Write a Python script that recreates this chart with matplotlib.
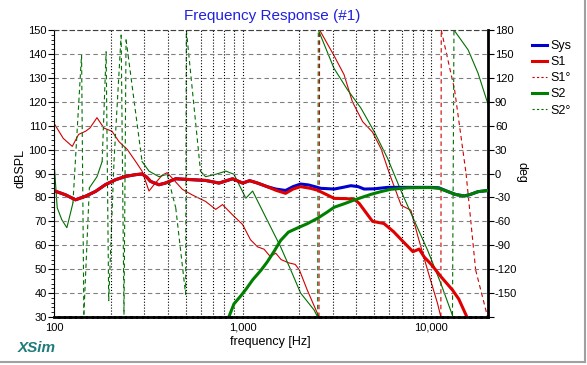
import matplotlib
matplotlib.use('Agg')
import matplotlib.pyplot as plt
from matplotlib.lines import Line2D
from matplotlib.ticker import LogLocator, FixedLocator, NullFormatter, FixedFormatter

plt.rcParams['font.family'] = ['Liberation Sans', 'DejaVu Sans']
plt.rcParams['axes.unicode_minus'] = False

# SPL curves (frequency in Hz, level in dB)
sys_f = [100, 115, 130, 147, 166, 187, 212, 240, 270, 293, 310, 325, 360, 390, 442, 542, 636, 750,
         885, 1000, 1090, 1200, 1350, 1500, 1690, 1850, 2030, 2240, 2600, 3060, 3400, 3750, 4100,
         4410, 5000, 5880, 7000, 8500, 10000, 11000, 12300, 13500, 15000, 16200, 17700, 20000]
sys_db = [82.8, 81.1, 79.0, 80.5, 82.5, 85.3, 87.4, 88.8, 89.5, 89.8, 88.5, 86.7, 85.3, 86.0, 87.8,
          87.4, 87.1, 86.0, 87.8, 86.0, 87.0, 86.0, 84.5, 83.5, 82.9, 84.5, 85.6, 85.2, 83.8, 83.5,
          84.2, 84.9, 84.5, 83.5, 83.6, 84.2, 84.2, 84.2, 84.2, 84.0, 82.4, 81.2, 80.6, 81.3, 82.4, 82.9]

s1_f = [100, 115, 130, 147, 166, 187, 212, 240, 270, 293, 310, 325, 360, 390, 442, 542, 636, 750,
        885, 1000, 1090, 1200, 1350, 1500, 1690, 1850, 2030, 2290, 2500, 2700, 3060, 3500, 3900,
        4150, 4410, 4880, 5610, 6310, 7000, 7540, 8000, 8630, 9200, 10000, 11250, 12960, 14000, 15300]
s1_db = [82.8, 81.1, 79.0, 80.5, 82.5, 85.3, 87.4, 88.8, 89.5, 89.8, 88.5, 86.7, 85.3, 86.0, 87.8,
         87.4, 87.1, 86.0, 87.8, 86.0, 87.0, 86.0, 84.5, 83.0, 81.7, 83.5, 84.5, 83.8, 83.0, 81.7,
         79.6, 79.5, 79.3, 77.5, 74.7, 70.0, 69.1, 65.7, 62.0, 59.4, 57.3, 58.4, 55.0, 52.0, 46.9,
         41.3, 37.5, 30.8]

s2_f = [850, 900, 970, 1040, 1130, 1250, 1350, 1470, 1590, 1750, 1950, 2200, 2500, 2800, 3060,
        3500, 3900, 4400, 4800, 5400, 6100, 7500, 9000, 10000, 11000, 12300, 13500, 15000, 16200,
        17700, 20000]
s2_db = [30.5, 35.5, 38.5, 41.5, 45.5, 49.5, 53.0, 57.5, 62.0, 65.5, 67.2, 69.0, 71.3, 73.8, 75.9,
         77.5, 78.9, 80.3, 81.3, 82.4, 83.4, 84.0, 84.1, 84.1, 83.8, 82.4, 81.2, 80.6, 81.3, 82.4, 82.9]

# phase curves (Hz, deg), split into runs; the jumps between runs are drawn dashed
s1_phase = [
    [(100, 63), (112, 44), (125, 34), (135, 49), (147, 53), (155, 57), (169, 70), (184, 57),
     (203, 53), (221, 40), (245, 30), (271, 15), (293, 3), (319, -22), (339, -14), (375, -2),
     (398, 1), (424, -6), (480, -20), (542, -27), (636, -35), (720, -45), (782, -39), (885, -52),
     (1000, -64), (1100, -83), (1200, -92), (1300, -95), (1400, -104), (1500, -100), (1600, -108),
     (1750, -112), (1900, -114), (2000, -121), (2200, -146), (2540, -180)],
    [(2560, 180), (3050, 148), (3450, 124), (3820, 90), (4330, 65), (4880, 52), (5420, 31),
     (6000, 0), (6930, -40), (7800, -46), (8500, -79), (9560, -121), (10800, -163), (11250, -180)],
    [(11300, 180)],
    [(13300, 105)],
    [(15300, 0)],
    [(17200, -121)],
    [(19900, -180)],
]

s2_phase = [
    [(100, 15), (104, -43), (110, -58), (117, -68), (126, -37)],
    [(140, 149)],
    [(144, -177)],
    [(154, -18), (169, -4), (180, 15)],
    [(189, 153)],
    [(195, -160)],
    [(208, 15)],
    [(227, 174)],
    [(235, -177)],
    [(241, 168)],
    [(293, 15), (319, 3), (360, -4), (398, -1)],
    [(442, -43)],
    [(499, -152)],
    [(503, 180)],
    [(598, 3), (636, -4), (720, -1), (815, 3), (900, -1), (1040, -31), (1130, -22), (1295, -50),
     (1590, -92), (1800, -121), (2030, -150), (2390, -171), (2500, -180)],
    [(2520, 180), (3050, 132), (3600, 105), (4240, 82), (5000, 52), (5870, 19), (6950, -23),
     (8160, -60), (9560, -96), (11250, -138), (12960, -178)],
    [(13200, 180), (15700, 155), (17700, 126), (20000, 87)],
]

c_sys = '#0000d0'
c_s1 = '#e00000'
c_s2 = '#008000'
c_s1p = '#d00000'
c_s2p = '#006f00'
dash = (0, (4, 3))


def draw_phase(ax, runs, color):
    for run in runs:
        f = [p[0] for p in run]
        d = [p[1] for p in run]
        ax.plot(f, d, color=color, lw=0.8)
    for a, b in zip(runs[:-1], runs[1:]):
        ax.plot([a[-1][0], b[0][0]], [a[-1][1], b[0][1]], color=color, lw=0.8, ls=dash)


fig = plt.figure(figsize=(5.87, 3.65), dpi=100)
ax = fig.add_axes([54/587, 48/365, 434/587, 287/365])
ax2 = ax.twinx()
ax.set_zorder(ax2.get_zorder() + 1)
ax.patch.set_visible(False)

# phase on the right axis
draw_phase(ax2, s1_phase, c_s1p)
draw_phase(ax2, s2_phase, c_s2p)

# SPL on the left axis
ax.plot(sys_f, sys_db, color=c_sys, lw=2.2)
ax.plot(s1_f, s1_db, color=c_s1, lw=2.2)
ax.plot(s2_f, s2_db, color=c_s2, lw=2.2)

ax.set_xscale('log')
ax.set_xlim(100, 20000)
ax.set_ylim(30, 150)
ax2.set_ylim(-180, 180)

ax.xaxis.set_major_locator(FixedLocator([100, 1000, 10000]))
ax.xaxis.set_major_formatter(FixedFormatter(['100', '1,000', '10,000']))
ax.xaxis.set_minor_locator(LogLocator(base=10, subs=range(2, 10), numticks=20))
ax.xaxis.set_minor_formatter(NullFormatter())
ax.tick_params(axis='x', which='both', length=0, labelsize=8, pad=4)

ax.set_yticks(range(30, 151, 10))
ax.set_yticks(range(30, 151, 2), minor=True)
ax.tick_params(axis='y', which='major', length=4, width=0.8, labelsize=8, pad=1)
ax.tick_params(axis='y', which='minor', length=2, width=0.6)

deg_ticks = list(range(-180, 181, 30))
ax2.set_yticks(deg_ticks)
ax2.set_yticklabels(['' if t == -180 else str(t) for t in deg_ticks])
ax2.tick_params(axis='y', length=4, width=0.8, labelsize=8, pad=1)

ax.grid(which='both', axis='x', color='black', ls=':', lw=0.8)
ax.grid(which='major', axis='y', color='#808080', ls=dash, lw=0.8)

for s in ['left', 'right', 'top', 'bottom']:
    ax2.spines[s].set_visible(s == 'right')
ax2.spines['right'].set_linewidth(2)
ax.spines['right'].set_visible(False)
ax.spines['left'].set_linewidth(0.8)
ax.spines['top'].set_color('#404040')
ax.spines['top'].set_linestyle(dash)
ax.spines['top'].set_linewidth(0.8)
ax.spines['bottom'].set_linewidth(2)
ax.spines['bottom'].set_linestyle((0, (1.5, 0.5)))

fig.text(272/587, 1 - 16/365, 'Frequency Response (#1)', color='#2020e0', fontsize=11,
         ha='center', va='center')
fig.text(20/587, 1 - 169/365, 'dBSPL', rotation=90, fontsize=9, ha='center', va='center')
fig.text(522/587, 1 - 172/365, 'deg', rotation=270, fontsize=9, ha='center', va='center')
fig.text(270/587, 1 - 342/365, 'frequency [Hz]', fontsize=9, ha='center', va='center')
fig.text(18/587, 1 - 348/365, 'XSim', fontsize=11, fontweight='bold', fontstyle='italic',
         color='#1e7b7b', ha='left', va='center')

handles = [Line2D([], [], color=c_sys, lw=2.2),
           Line2D([], [], color=c_s1, lw=2.2),
           Line2D([], [], color=c_s1p, lw=0.8, ls=(0, (2, 2))),
           Line2D([], [], color=c_s2, lw=2.2),
           Line2D([], [], color=c_s2p, lw=0.8, ls=(0, (2, 2)))]
fig.legend(handles, ['Sys', 'S1', 'S1°', 'S2', 'S2°'], loc='upper left',
           bbox_to_anchor=(532/587, 1 - 40/365), frameon=False, fontsize=9,
           handlelength=1.2, handletextpad=0.3, labelspacing=0.33, borderpad=0, borderaxespad=0)

# window border
fig.add_artist(Line2D([0, 585/587], [3/365, 3/365], color='#a0a0a0', lw=1.5))
fig.add_artist(Line2D([585/587, 585/587], [3/365, 1], color='#a0a0a0', lw=1.5))

fig.savefig('out.png', dpi=100, facecolor='white')
